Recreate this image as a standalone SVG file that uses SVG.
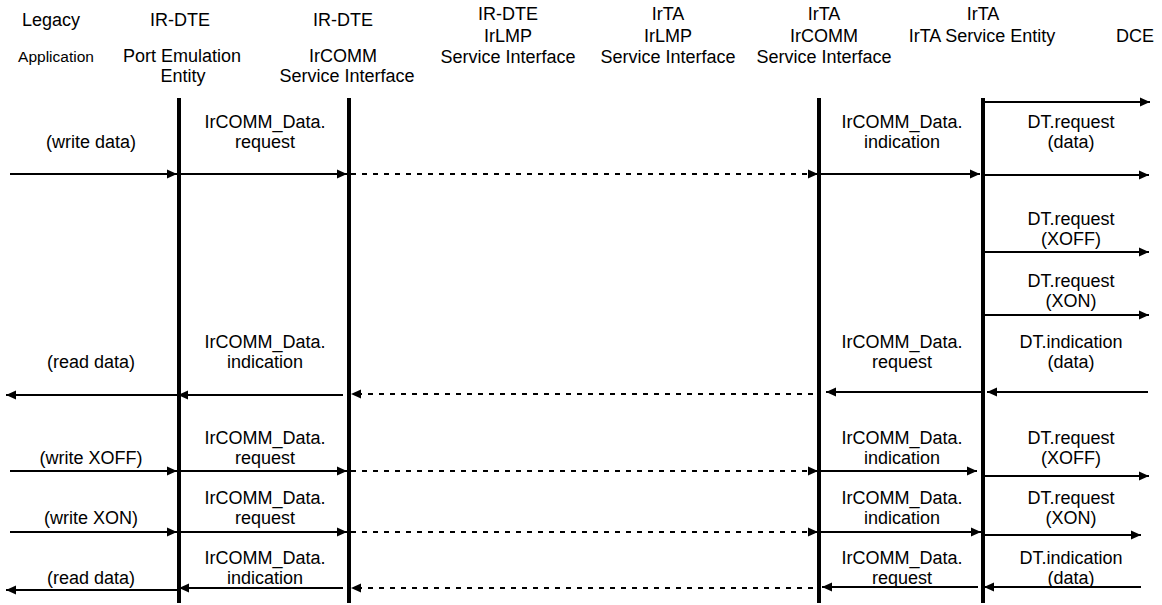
<svg xmlns="http://www.w3.org/2000/svg" width="1162" height="605" viewBox="0 0 1162 605">
<style>
text{font-family:"Liberation Sans",Arial,sans-serif;font-size:18px;fill:#000;text-anchor:middle}
.small{font-size:15.5px}
.life{stroke:#000;stroke-width:4;fill:none}
.msg{stroke:#000;stroke-width:2;fill:none;marker-end:url(#ah)}
.dash{stroke-dasharray:5 6}
</style>
<defs>
<marker id="ah" markerUnits="userSpaceOnUse" markerWidth="10" markerHeight="10" viewBox="0 0 10 10" refX="10" refY="5" orient="auto">
<path d="M0,0.5 L10,5 L0,9.5 z" fill="#000"/>
</marker>
</defs>
<rect width="1162" height="605" fill="#fff"/>

<g id="legacy-application">
<text x="51" y="26">Legacy</text>
<text class="small" x="56" y="62">Application</text>
</g>
<g id="port-emulation-entity">
<text x="180" y="26">IR-DTE</text>
<text x="182" y="62">Port Emulation</text>
<text x="183" y="82">Entity</text>
<line class="life" x1="179" y1="98" x2="179" y2="603"/>
</g>
<g id="dte-ircomm-service-interface">
<text x="343" y="26">IR-DTE</text>
<text x="343" y="62">IrCOMM</text>
<text x="347" y="82">Service Interface</text>
<line class="life" x1="349" y1="98" x2="349" y2="603"/>
</g>
<g id="dte-irlmp-service-interface">
<text x="508" y="20">IR-DTE</text>
<text x="508" y="42">IrLMP</text>
<text x="508" y="63">Service Interface</text>
</g>
<g id="irta-irlmp-service-interface">
<text x="668" y="20">IrTA</text>
<text x="668" y="42">IrLMP</text>
<text x="668" y="63">Service Interface</text>
</g>
<g id="irta-ircomm-service-interface">
<text x="824" y="20">IrTA</text>
<text x="824" y="42">IrCOMM</text>
<text x="824" y="63">Service Interface</text>
<line class="life" x1="819" y1="98" x2="819" y2="603"/>
</g>
<g id="irta-service-entity">
<text x="983" y="20">IrTA</text>
<text x="982" y="42">IrTA Service Entity</text>
<line class="life" x1="983" y1="98" x2="983" y2="603"/>
</g>
<g id="dce">
<text x="1135" y="42">DCE</text>
</g>

<g id="connectors">
<line class="msg" x1="983" y1="102" x2="1150" y2="102"/>
<line class="msg" x1="10" y1="174" x2="177" y2="174"/>
<line class="msg" x1="179" y1="174" x2="347" y2="174"/>
<line class="msg dash" x1="351" y1="174" x2="818" y2="174"/>
<line class="msg" x1="819" y1="174" x2="980" y2="174"/>
<line class="msg" x1="983" y1="175" x2="1149" y2="175"/>
<line class="msg" x1="983" y1="252" x2="1149" y2="252"/>
<line class="msg" x1="983" y1="315" x2="1149" y2="315"/>
<line class="msg" x1="177" y1="395" x2="6" y2="395"/>
<line class="msg" x1="343" y1="395" x2="178" y2="395"/>
<line class="msg dash" x1="813" y1="394" x2="351" y2="394"/>
<line class="msg" x1="981" y1="392" x2="826" y2="392"/>
<line class="msg" x1="1148" y1="392" x2="987" y2="392"/>
<line class="msg" x1="10" y1="471" x2="177" y2="471"/>
<line class="msg" x1="179" y1="471" x2="347" y2="471"/>
<line class="msg dash" x1="351" y1="471" x2="818" y2="471"/>
<line class="msg" x1="819" y1="471" x2="977" y2="471"/>
<line class="msg" x1="985" y1="476" x2="1149" y2="476"/>
<line class="msg" x1="10" y1="532" x2="177" y2="532"/>
<line class="msg" x1="179" y1="532" x2="347" y2="532"/>
<line class="msg dash" x1="351" y1="532" x2="818" y2="532"/>
<line class="msg" x1="819" y1="532" x2="981" y2="532"/>
<line class="msg" x1="983" y1="535" x2="1141" y2="535"/>
<line class="msg" x1="177" y1="590" x2="6" y2="590"/>
<line class="msg" x1="343" y1="588" x2="179" y2="588"/>
<line class="msg dash" x1="813" y1="588" x2="351" y2="588"/>
<line class="msg" x1="978" y1="587" x2="822" y2="587"/>
<line class="msg" x1="1141" y1="587" x2="984" y2="587"/>
</g>

<g id="labels">
<text x="91" y="148">(write data)</text>
<text x="265" y="128">IrCOMM_Data.</text>
<text x="265" y="148">request</text>
<text x="902" y="128">IrCOMM_Data.</text>
<text x="902" y="148">indication</text>
<text x="1071" y="128">DT.request</text>
<text x="1071" y="148">(data)</text>

<text x="1071" y="225">DT.request</text>
<text x="1071" y="245">(XOFF)</text>
<text x="1071" y="287">DT.request</text>
<text x="1071" y="307">(XON)</text>

<text x="91" y="368">(read data)</text>
<text x="265" y="348">IrCOMM_Data.</text>
<text x="265" y="368">indication</text>
<text x="902" y="348">IrCOMM_Data.</text>
<text x="902" y="368">request</text>
<text x="1071" y="348">DT.indication</text>
<text x="1071" y="368">(data)</text>

<text x="91" y="464">(write XOFF)</text>
<text x="265" y="444">IrCOMM_Data.</text>
<text x="265" y="464">request</text>
<text x="902" y="444">IrCOMM_Data.</text>
<text x="902" y="464">indication</text>
<text x="1071" y="444">DT.request</text>
<text x="1071" y="464">(XOFF)</text>

<text x="91" y="524">(write XON)</text>
<text x="265" y="504">IrCOMM_Data.</text>
<text x="265" y="524">request</text>
<text x="902" y="504">IrCOMM_Data.</text>
<text x="902" y="524">indication</text>
<text x="1071" y="504">DT.request</text>
<text x="1071" y="524">(XON)</text>

<text x="91" y="584">(read data)</text>
<text x="265" y="564">IrCOMM_Data.</text>
<text x="265" y="584">indication</text>
<text x="902" y="564">IrCOMM_Data.</text>
<text x="902" y="584">request</text>
<text x="1071" y="564">DT.indication</text>
<text x="1071" y="584">(data)</text>
</g>
</svg>
